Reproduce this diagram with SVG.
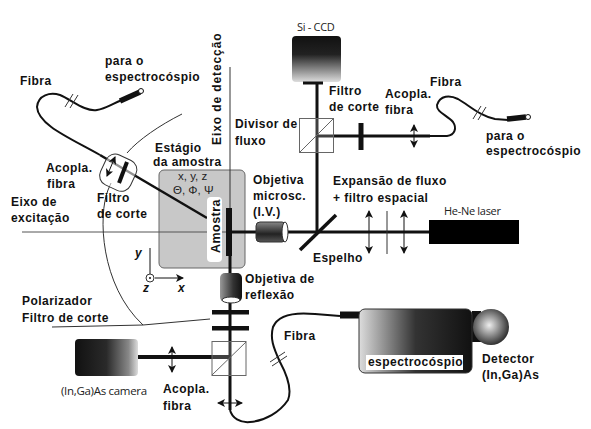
<svg xmlns="http://www.w3.org/2000/svg" width="591" height="429" viewBox="0 0 591 429">
<style>
.t{font-family:"Liberation Sans",Arial,sans-serif;font-size:12px;font-weight:bold;fill:#111;letter-spacing:.45px}
.n{font-family:"Open Sans","Liberation Sans",sans-serif;font-size:11px;fill:#222;letter-spacing:-.3px}
.m{font-family:"Liberation Sans",Arial,sans-serif;font-size:11.500px;fill:#222}
.thin{fill:none;stroke:#333;stroke-width:1}
.beam{fill:none;stroke:#111;stroke-width:3}
.fib{fill:none;stroke:#111;stroke-width:2}
.arr{fill:none;stroke:#111;stroke-width:1;marker-start:url(#a);marker-end:url(#a)}
</style>
<defs>
<marker id="a" viewBox="0 0 8 8" refX="7" refY="4" markerWidth="8" markerHeight="8" markerUnits="userSpaceOnUse" orient="auto-start-reverse"><path d="M0 0L8 4L0 8L2 4Z" fill="#111"/></marker>
<linearGradient id="v" x1="0" y1="0" x2="0" y2="1"><stop offset="0" stop-color="#111"/><stop offset=".4" stop-color="#222"/><stop offset="1" stop-color="#ddd"/></linearGradient>
<linearGradient id="h" x1="0" y1="0" x2="1" y2="0"><stop offset="0" stop-color="#111"/><stop offset=".5" stop-color="#2a2a2a"/><stop offset=".85" stop-color="#888"/><stop offset="1" stop-color="#ddd"/></linearGradient>
<linearGradient id="ir" x1="0" y1="0" x2="0" y2="1"><stop offset="0" stop-color="#888"/><stop offset=".6" stop-color="#222"/><stop offset="1" stop-color="#555"/></linearGradient>
<linearGradient id="s" x1="0" y1="0" x2="1" y2="0"><stop offset="0" stop-color="#999"/><stop offset=".6" stop-color="#333"/><stop offset="1" stop-color="#111"/></linearGradient>
<linearGradient id="c" x1="0" y1="0" x2="1" y2="0"><stop offset="0" stop-color="#ddd"/><stop offset=".5" stop-color="#333"/><stop offset="1" stop-color="#111"/></linearGradient>
<radialGradient id="b" cx=".45" cy=".45" r=".55"><stop offset="0" stop-color="#eee"/><stop offset="1" stop-color="#333"/></radialGradient>
</defs>
<rect width="591" height="429" fill="#fff"/>

<g id="stage"><rect x="159" y="170" width="86" height="98" rx="5" fill="#c8c8c8" stroke="#666"/></g>

<g id="connectors">
<path class="thin" d="M22 232H228" style="stroke:#555"/>
<path class="thin" d="M230 67V208"/>
<path class="thin" d="M182 114C160 125 138 140 127 153M111 183L108 190C98 215 100 285 143 325"/>
<path class="thin" d="M52 327L143 325L210 319"/>
<path class="beam" d="M230 256V410M232 232H429M317 82V232M317 136H430"/>
<path class="beam" style="stroke-width:4" d="M138 357H230"/>
<path class="fib" style="stroke-width:2.5" d="M207 218L100 155"/>
<path class="fib" d="M100 155C70 138 38 125 37 107C38 95 50 92 60 95C72 100 85 112 97 110C105 109 112 104 122 100"/>
<path class="fib" d="M430 136H447C455 135 457 128 453 122C447 115 436 112 437 105C440 95 450 95 458 99C470 106 480 116 495 119L508 120"/>
<path class="fib" d="M230 410C232 418 240 423 250 422C265 421 280 412 288 400C292 390 287 375 280 362C273 347 270 338 273 327C278 315 295 312 315 314L340 316"/>
<path class="thin" d="M65 107L73 94M70 108L78 95M270 362L285 352M272 366L287 356M473 119L481 106M478 120L486 107"/>
</g>

<g id="fiber-coupler-top"><rect x="102" y="156" width="33" height="33" rx="10" transform="rotate(25 118 172)" fill="#fff" fill-opacity=".55" stroke="#333"/><path d="M127 162L119 183" stroke="#111" stroke-width="4"/><path class="arr" d="M115 157L107 176"/></g>
<g id="fiber-end-top"><path d="M120 101L140 92" stroke="#111" stroke-width="5.5"/><circle cx="141" cy="91" r="2.5" fill="#fff" stroke="#111"/></g>
<g id="fiber-end-right"><path d="M507 119L526 117" stroke="#111" stroke-width="5.5"/><circle cx="528" cy="117" r="2.5" fill="#fff" stroke="#111"/></g>
<g id="sample-plate"><rect x="207" y="197" width="15" height="65" rx="4" fill="#fff"/><rect x="226" y="208" width="6" height="48" fill="#111"/><text class="t" transform="translate(219.500 253) rotate(-90)" style="font-size:12.500px">Amostra</text></g>
<g id="objective-ir"><rect x="256" y="222" width="30" height="20" rx="4" fill="url(#ir)" stroke="#333"/><ellipse cx="285" cy="232" rx="3" ry="10" fill="#fff" stroke="#333"/></g>
<g id="mirror"><path d="M300 250L336 215" stroke="#111" stroke-width="3.500"/></g>
<g id="si-ccd"><rect x="292" y="36" width="49" height="46" rx="4" fill="url(#v)"/><path d="M303 83H323" stroke="#111" stroke-width="3"/></g>
<g id="beam-splitter-top"><rect x="299.500" y="118.500" width="34" height="34" fill="#fff" fill-opacity=".2" stroke="#666"/><path d="M300 152L334 118" stroke="#666"/></g>
<g id="filter-top"><path d="M361 123V150" stroke="#111" stroke-width="5"/></g>
<path class="arr" d="M414 125V147"/>
<g id="lenses"><path class="arr" d="M369 211V253"/><path class="arr" d="M404 211V253"/><path d="M387 211V254" stroke="#333"/></g>
<g id="laser"><rect x="429" y="220" width="90" height="24" fill="#000"/></g>
<g id="axes"><path d="M150 274V248M155 278H183" class="arr" style="marker-start:none"/><circle cx="150" cy="278" r="4" fill="#fff" stroke="#333"/><circle cx="150" cy="278" r="1" fill="#111"/></g>
<g id="objective-reflection"><rect x="220" y="273" width="22" height="29" rx="5" fill="url(#s)"/><ellipse cx="231" cy="300" rx="9" ry="3" fill="#fff" stroke="#333"/></g>
<g id="filters-bottom"><rect x="212" y="310" width="37" height="4.500" fill="#111"/><rect x="212" y="326" width="37" height="4.500" fill="#111"/></g>
<g id="beam-splitter-bottom"><rect x="212" y="341.500" width="34" height="34" fill="#fff" fill-opacity=".2" stroke="#666"/><path d="M212 375L246 342" stroke="#666"/></g>
<g id="camera"><rect x="75" y="339" width="63" height="37" rx="4" fill="url(#h)"/></g>
<path class="arr" d="M172 347V372"/>
<path class="arr" d="M218 403H242"/>
<g id="spectroscope"><path d="M340 315H360" stroke="#111" stroke-width="7"/><rect x="472" y="311" width="9" height="31" fill="#111"/><rect x="359" y="309" width="113" height="64" rx="6" fill="url(#c)" stroke="#333"/><rect x="366" y="355" width="97" height="15" fill="#fff"/><text class="t" x="368" y="366">espectrocóspio</text></g>
<g id="detector"><circle cx="491" cy="327" r="18" fill="url(#b)"/></g>

<g id="labels">
<text class="n" x="297" y="31">Si - CCD</text>
<text class="t" x="20" y="85">Fibra</text>
<text class="t" x="105" y="65">para o</text>
<text class="t" x="105" y="81">espectrocóspio</text>
<text class="t" transform="translate(221 145) rotate(-90)" style="letter-spacing:.9px">Eixo de detecção</text>
<text class="t" x="235" y="128">Divisor de</text>
<text class="t" x="235" y="145">fluxo</text>
<text class="t" x="155" y="152">Estágio</text>
<text class="t" x="153" y="166">da amostra</text>
<text class="m" x="178" y="180">x, y, z</text>
<text class="m" x="173" y="193.500">Θ, Φ, Ψ</text>
<text class="t" x="46" y="172">Acopla.</text>
<text class="t" x="47" y="188">fibra</text>
<text class="t" x="11" y="206">Eixo de</text>
<text class="t" x="11" y="222">excitação</text>
<text class="t" x="97" y="202">Filtro</text>
<text class="t" x="97" y="218">de corte</text>
<text class="t" x="253" y="184">Objetiva</text>
<text class="t" x="253" y="200">microsc.</text>
<text class="t" x="253" y="216">(I.V.)</text>
<text class="t" x="329" y="95">Filtro</text>
<text class="t" x="329" y="111">de corte</text>
<text class="t" x="385" y="98">Acopla.</text>
<text class="t" x="385" y="114">fibra</text>
<text class="t" x="430" y="86">Fibra</text>
<text class="t" x="486" y="140">para o</text>
<text class="t" x="486" y="155">espectrocóspio</text>
<text class="t" x="333" y="185">Expansão de fluxo</text>
<text class="t" x="333" y="202">+ filtro espacial</text>
<text class="n" x="444" y="215">He-Ne laser</text>
<text class="t" x="313" y="262">Espelho</text>
<text class="t" x="245" y="283">Objetiva de</text>
<text class="t" x="245" y="299">reflexão</text>
<text class="t" x="22" y="305">Polarizador</text>
<text class="t" x="22" y="322">Filtro de corte</text>
<text class="t" x="284" y="340">Fibra</text>
<text class="t" x="482" y="363">Detector</text>
<text class="t" x="482" y="379">(In,Ga)As</text>
<text class="n" x="61" y="395" style="font-size:11.500px">(In,Ga)As camera</text>
<text class="t" x="163" y="393">Acopla.</text>
<text class="t" x="163" y="410">fibra</text>
<text class="t" x="135" y="257" style="font-style:italic">y</text>
<text class="t" x="143" y="292" style="font-style:italic">z</text>
<text class="t" x="178" y="292" style="font-style:italic">x</text>
</g>
</svg>
